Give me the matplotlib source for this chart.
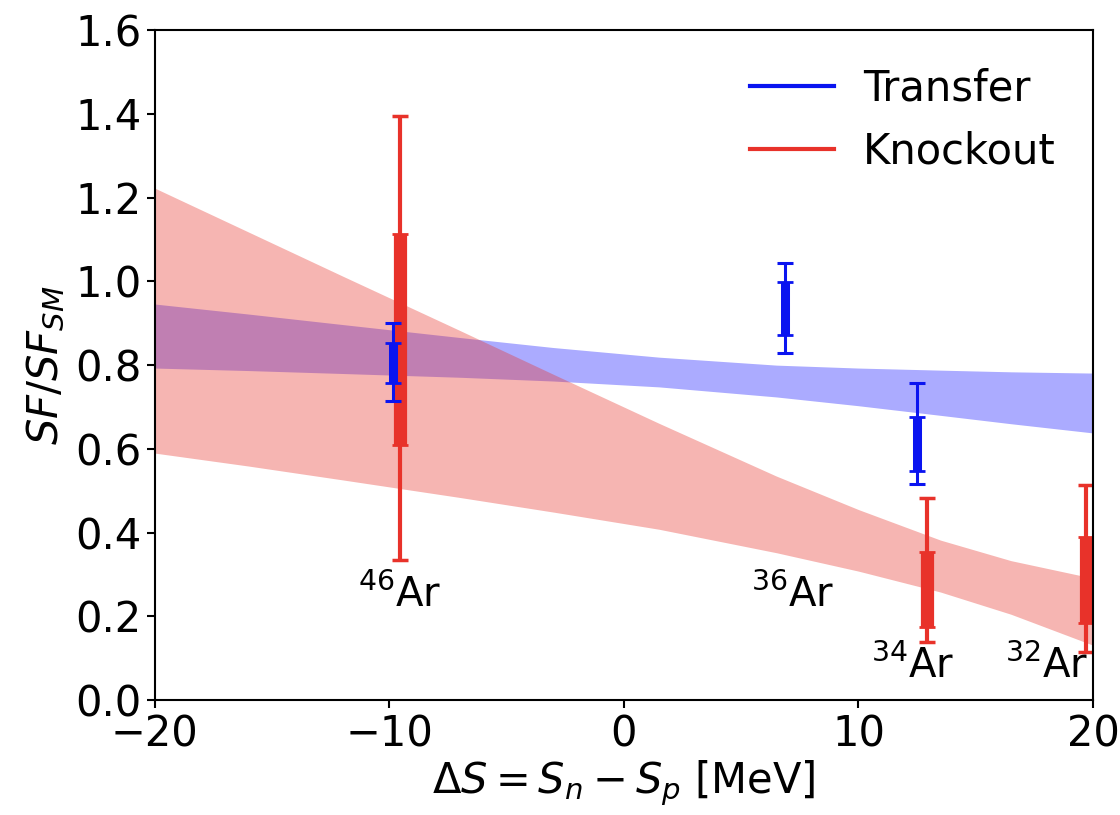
import matplotlib.pyplot as plt
from matplotlib.lines import Line2D
import numpy as np

# spectroscopic factor ratios vs. separation energy difference
# transfer: 46Ar, 36Ar, 34Ar
tr_x = np.array([-9.85, 6.85, 12.5])
tr_y = np.array([0.805, 0.935, 0.612])
tr_stat = np.array([0.048, 0.063, 0.064])
tr_tot_lo = np.array([0.091, 0.106, 0.095])
tr_tot_hi = np.array([0.096, 0.108, 0.145])

# knockout: 46Ar, 34Ar, 32Ar
ko_x = np.array([-9.55, 12.9, 19.7])
ko_y = np.array([0.862, 0.264, 0.287])
ko_stat = np.array([0.252, 0.090, 0.103])
ko_tot_lo = np.array([0.527, 0.125, 0.172])
ko_tot_hi = np.array([0.533, 0.218, 0.226])

# fit bands (edges read at a handful of dS values)
band_x = np.array([-20, -16, -12, -7, -3, 1.5, 6.5, 10, 13.5, 16.5, 20])
tr_lo = np.array([0.793, 0.787, 0.780, 0.771, 0.762, 0.748, 0.724, 0.703, 0.680, 0.660, 0.638])
tr_hi = np.array([0.946, 0.922, 0.897, 0.866, 0.842, 0.819, 0.800, 0.793, 0.788, 0.784, 0.781])
ko_lo = np.array([0.590, 0.559, 0.526, 0.484, 0.449, 0.408, 0.352, 0.308, 0.258, 0.205, 0.131])
ko_hi = np.array([1.223, 1.118, 1.013, 0.883, 0.778, 0.661, 0.535, 0.455, 0.382, 0.333, 0.291])

labels = ['$^{46}$Ar', '$^{36}$Ar', '$^{34}$Ar', '$^{32}$Ar']
label_x = [-9.55, 7.2, 12.3, 18.0]
label_y = [0.25, 0.25, 0.08, 0.08]

red = '#e8322a'
blue = '#0a14f0'

plt.rcParams['font.family'] = 'DejaVu Sans'
plt.rcParams['mathtext.fontset'] = 'dejavusans'

fig = plt.figure(figsize=(11.2, 8.15), dpi=100)
ax = fig.add_axes([0.138, 0.141, 0.838, 0.822])

ax.fill_between(band_x, tr_lo, tr_hi, color='blue', alpha=0.33, lw=0)
ax.fill_between(band_x, ko_lo, ko_hi, color=red, alpha=0.36, lw=0)

# total error (thin) then statistical error (thick)
ax.errorbar(ko_x, ko_y, yerr=[ko_tot_lo, ko_tot_hi], fmt='none', ecolor=red,
            elinewidth=3, capsize=6, capthick=2.5)
ax.errorbar(ko_x, ko_y, yerr=ko_stat, fmt='none', ecolor=red,
            elinewidth=9.5, capsize=6, capthick=2)
ax.errorbar(tr_x, tr_y, yerr=[tr_tot_lo, tr_tot_hi], fmt='none', ecolor=blue,
            elinewidth=2.2, capsize=6, capthick=2.2)
ax.errorbar(tr_x, tr_y, yerr=tr_stat, fmt='none', ecolor=blue,
            elinewidth=6.5, capsize=6, capthick=2)

for lab, lx, ly in zip(labels, label_x, label_y):
    ax.text(lx, ly, lab, fontsize=29, ha='center', va='center')

ax.set_xlim(-20, 20)
ax.set_ylim(0, 1.6)
ax.set_xticks([-20, -10, 0, 10, 20])
ax.set_yticks(np.arange(0, 1.61, 0.2))
ax.tick_params(labelsize=30, width=1.5, length=6)
for s in ax.spines.values():
    s.set_linewidth(1.5)

ax.set_xlabel(r'$\Delta S = S_n - S_p$ [MeV]', fontsize=30, labelpad=2)
ax.set_ylabel(r'$SF/SF_{SM}$', fontsize=30, labelpad=6)

handles = [Line2D([0], [0], color=blue, lw=3), Line2D([0], [0], color=red, lw=3)]
ax.legend(handles, ['Transfer', 'Knockout'], loc='upper right', frameon=False,
          fontsize=30, handlelength=2.0, handletextpad=0.7, borderaxespad=0.5)

fig.savefig('out.png', dpi=100)
